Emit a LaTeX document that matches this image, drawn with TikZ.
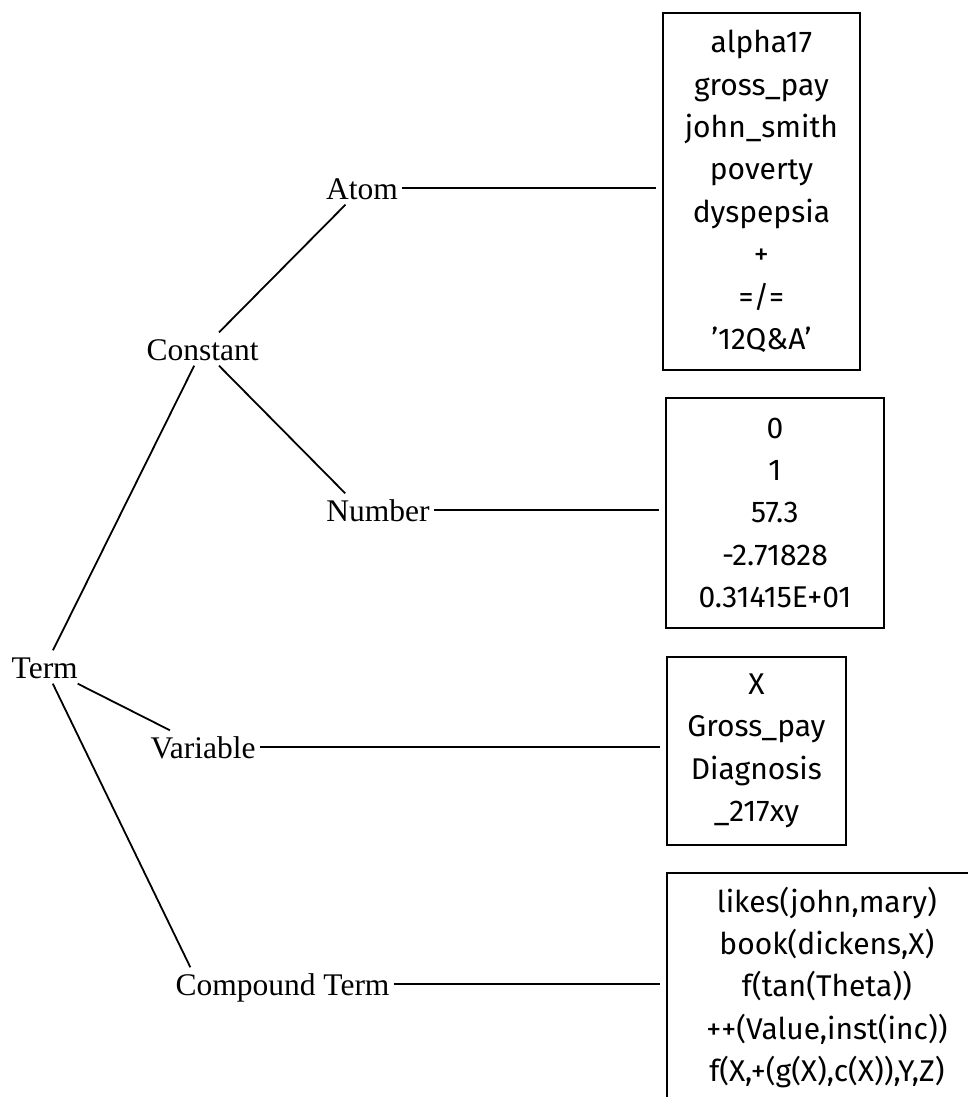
\documentclass[tikz,border=0pt]{standalone}
\usepackage{fontspec}
\setmainfont{Liberation Serif}
\newfontfamily\boxfont{Fira Sans}
\begin{document}
\begin{tikzpicture}[x=1pt,y=-1pt,
  lbl/.style={font=\fontsize{31.5}{36}\selectfont, inner xsep=4pt, inner ysep=5.5pt,
              text height=22pt, text depth=0pt, anchor=base},
  ex/.style={draw, line width=1.8pt, font=\boxfont\fontsize{30}{42.4}\selectfont,
             align=center, anchor=north west, inner sep=0pt},
  conn/.style={line width=1.8pt},
  tobox/.style={line width=1.8pt, shorten >=6pt}]
\useasboundingbox (0,0) rectangle (968,1097);

% labels
\node[lbl] (atom) at (362,199) {Atom};
\node[lbl] (constant) at (202.5,360) {Constant};
\node[lbl] (number) at (378,521) {Number};
\node[lbl] (term) at (44.7,678) {Term};
\node[lbl] (variable) at (203,758) {Variable};
\node[lbl] (compound) at (282.5,995) {Compound Term};

% example boxes
\node[ex, minimum width=197pt, minimum height=357pt] (atoms) at (662,12)
  {alpha17\\gross\_pay\\john\_smith\\poverty\\dyspepsia\\+\\=/=\\’12Q\&A’};
\node[ex, minimum width=218pt, minimum height=230pt] (numbers) at (665,397)
  {0\\1\\57.3\\-2.71828\\0.31415E+01};
\node[ex, minimum width=179pt, minimum height=188pt] (variables) at (666,656)
  {X\\Gross\_pay\\Diagnosis\\\_217xy};
\node[ex, minimum width=320pt, minimum height=229pt] (compounds) at (666,872)
  {likes(john,mary)\\book(dickens,X)\\f(tan(Theta))\\++(Value,inst(inc))\\f(X,+(g(X),c(X)),Y,Z)};

% tree connectors
\draw[conn] (term) -- (constant);
\draw[conn] (constant) -- (atom);
\draw[conn] (constant) -- ([xshift=23pt]number.north west);
\draw[conn] (term) -- (variable);
\draw[conn] (term) -- ([xshift=19pt]compound.north west);

% to boxes
\draw[tobox] (atom.east) -- (atom.east -| atoms.west);
\draw[tobox] (number.east) -- (number.east -| numbers.west);
\draw[tobox] (variable.east) -- (variable.east -| variables.west);
\draw[tobox] (compound.east) -- (compound.east -| compounds.west);
\end{tikzpicture}
\end{document}
